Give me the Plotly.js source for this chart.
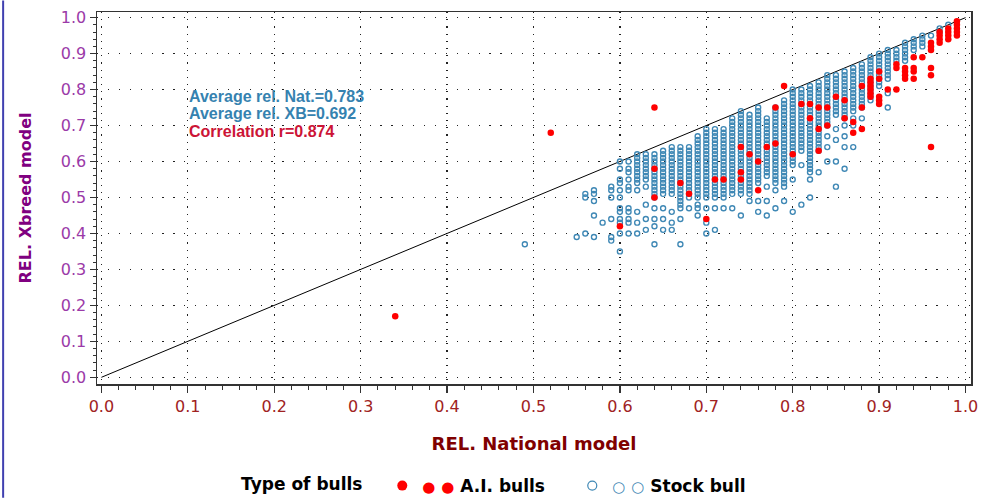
<!DOCTYPE html>
<html>
<head>
<meta charset="utf-8">
<script src="https://cdn.plot.ly/plotly-3.0.1.min.js"></script>
<style>
  html, body { margin: 0; padding: 0; background: #ffffff; }
  #chart { width: 984px; height: 498px; }
</style>
</head>
<body>
<div id="chart"></div>
<script>
// ---- Data ----
// Stock bulls: one x per column, with the y values seen in that column
const stockColX = [0.49, 0.55, 0.56, 0.57, 0.58, 0.59, 0.60, 0.61, 0.62, 0.63, 0.64, 0.65, 0.66, 0.67, 0.68, 0.69,
  0.70, 0.71, 0.72, 0.73, 0.74, 0.75, 0.76, 0.77, 0.78, 0.79, 0.80, 0.81, 0.82, 0.83, 0.84, 0.85, 0.86, 0.87, 0.88,
  0.89, 0.90, 0.91, 0.92, 0.93, 0.94, 0.95, 0.96, 0.97, 0.98];
const stockColY = [
  [.37],
  [.39],
  [.51,.50,.40],
  [.52,.51,.49,.45,.39],
  [.43],
  [.53,.52,.50,.44,.39,.38],
  [.60,.58,.55,.54,.52,.50,.47,.46,.44,.43,.40,.35],
  [.60,.58,.57,.55,.53,.52,.47,.46,.44,.43,.40],
  [.62,.61,.60,.59,.58,.57,.56,.55,.54,.52,.46,.43,.40],
  [.62,.61,.60,.59,.58,.57,.56,.55,.53,.48,.44,.41],
  [.62,.61,.60,.59,.58,.57,.56,.55,.54,.53,.52,.51,.50,.47,.44,.42,.37],
  [.63,.62,.61,.60,.59,.58,.57,.56,.55,.54,.53,.52,.51,.47,.44,.41],
  [.64,.63,.62,.61,.60,.59,.58,.57,.56,.55,.54,.53,.52,.51,.46,.43,.41],
  [.64,.63,.62,.61,.60,.59,.58,.57,.56,.55,.54,.53,.52,.51,.50,.49,.48,.47,.44,.37],
  [.64,.63,.62,.61,.60,.59,.58,.57,.56,.55,.54,.53,.52,.51,.50,.47],
  [.67,.66,.65,.64,.63,.62,.61,.60,.59,.58,.57,.56,.55,.54,.53,.52,.51,.50,.48,.47,.45],
  [.69,.68,.67,.66,.65,.64,.63,.62,.61,.60,.59,.58,.57,.56,.55,.54,.53,.52,.51,.50,.47,.43,.40],
  [.69,.68,.67,.66,.65,.64,.63,.62,.61,.60,.59,.58,.57,.56,.55,.54,.53,.52,.51,.50,.47,.41],
  [.69,.68,.67,.66,.65,.64,.63,.62,.61,.60,.59,.58,.57,.56,.55,.54,.53,.52,.51,.50,.47],
  [.72,.71,.70,.69,.68,.67,.66,.65,.64,.63,.62,.61,.60,.59,.58,.57,.56,.55,.54,.53,.52,.51,.47],
  [.74,.73,.72,.71,.70,.69,.68,.67,.66,.65,.64,.63,.62,.61,.60,.59,.58,.57,.56,.55,.54,.53,.52,.51,.45],
  [.73,.72,.71,.70,.69,.68,.67,.66,.65,.64,.63,.62,.61,.60,.59,.58,.57,.56,.55,.54,.53,.52,.51,.49],
  [.75,.74,.73,.72,.71,.70,.69,.68,.67,.66,.65,.64,.63,.62,.61,.60,.59,.58,.57,.56,.55,.54,.49,.46],
  [.72,.71,.70,.69,.68,.67,.66,.65,.64,.63,.62,.61,.60,.59,.58,.57,.56,.53,.49,.45],
  [.75,.74,.73,.72,.71,.70,.69,.68,.67,.66,.65,.64,.63,.62,.61,.60,.59,.58,.57,.56,.55,.54,.52,.47],
  [.77,.76,.75,.74,.73,.72,.71,.70,.69,.68,.67,.66,.65,.64,.63,.62,.61,.60,.59,.58,.57,.56,.55,.54,.53,.49],
  [.80,.79,.78,.77,.76,.75,.74,.73,.72,.71,.70,.69,.68,.67,.66,.65,.64,.63,.62,.61,.60,.59,.55,.46],
  [.80,.79,.78,.77,.76,.75,.74,.73,.72,.71,.70,.69,.68,.67,.66,.65,.64,.63,.59,.48],
  [.81,.80,.79,.78,.77,.76,.75,.74,.73,.72,.71,.70,.69,.68,.67,.66,.65,.64,.63,.62,.61,.60,.59,.58,.57,.55,.50],
  [.82,.81,.80,.79,.78,.77,.76,.75,.74,.73,.72,.71,.70,.69,.68,.67,.66,.65,.64,.63,.57],
  [.84,.83,.82,.81,.80,.79,.78,.77,.76,.75,.74,.73,.72,.71,.70,.67,.64,.60],
  [.84,.83,.82,.81,.80,.79,.78,.77,.76,.75,.74,.73,.69,.66,.60,.53],
  [.85,.84,.83,.82,.81,.80,.79,.78,.77,.76,.75,.74,.73,.72,.70,.67,.64,.58],
  [.86,.85,.84,.83,.82,.81,.80,.79,.78,.77,.76,.75,.74,.72,.70,.64],
  [.87,.86,.85,.84,.83,.82,.81,.80,.79,.78,.77,.76,.75,.72],
  [.89,.88,.87,.86,.85,.84,.83,.82,.81,.80,.79,.78,.77],
  [.90,.89,.88,.87,.86,.85,.84,.83,.82,.81],
  [.91,.90,.89,.88,.87,.86,.85,.84,.83,.79,.75],
  [.91,.90,.89,.88],
  [.93,.92,.91,.90,.89,.88],
  [.94,.93,.92,.91],
  [.95,.94,.93,.92],
  [.95],
  [.97,.96],
  [.98]
];

// A.I. bulls
const aiX = [0.34, 0.52, 0.60, 0.64, 0.64, 0.64, 0.67, 0.68, 0.70, 0.71, 0.72, 0.74, 0.74, 0.74, 0.75, 0.76, 0.76,
  0.77, 0.78, 0.78, 0.79, 0.80, 0.81, 0.82, 0.82, 0.83, 0.83, 0.83, 0.84, 0.84, 0.85, 0.86, 0.86, 0.87, 0.87,
  0.88, 0.88, 0.88, 0.89, 0.89, 0.89, 0.89, 0.89, 0.89, 0.90, 0.90, 0.90, 0.90, 0.90, 0.91, 0.92, 0.92, 0.92,
  0.93, 0.93, 0.93, 0.93, 0.94, 0.94, 0.94, 0.94, 0.95, 0.96, 0.96, 0.96, 0.96, 0.96, 0.96,
  0.97, 0.97, 0.97, 0.97, 0.98, 0.98, 0.98, 0.98, 0.99, 0.99, 0.99, 0.99, 0.99];
const aiY = [0.17, 0.68, 0.42, 0.75, 0.58, 0.50, 0.54, 0.51, 0.44, 0.55, 0.55, 0.64, 0.57, 0.55, 0.62, 0.60, 0.52,
  0.64, 0.75, 0.65, 0.81, 0.62, 0.76, 0.76, 0.72, 0.75, 0.69, 0.63, 0.75, 0.70, 0.78, 0.77, 0.72, 0.71, 0.68,
  0.81, 0.75, 0.69, 0.83, 0.82, 0.81, 0.80, 0.79, 0.78, 0.85, 0.83, 0.78, 0.77, 0.76, 0.80, 0.87, 0.86, 0.80,
  0.86, 0.85, 0.84, 0.83, 0.89, 0.86, 0.85, 0.83, 0.89, 0.93, 0.92, 0.91, 0.86, 0.84, 0.64,
  0.96, 0.95, 0.94, 0.93, 0.97, 0.96, 0.95, 0.94, 0.99, 0.98, 0.97, 0.96, 0.95];

// Reference line y = x
const refLineX = [0, 1];
const refLineY = [0, 1];

// Summary statistics printed on the chart
const avgRelNat = 0.783;
const avgRelXB = 0.692;
const corrR = 0.874;

// Axis ticks
const tickValues = [0, 0.1, 0.2, 0.3, 0.4, 0.5, 0.6, 0.7, 0.8, 0.9, 1.0];
const tickLabels = ['0.0', '0.1', '0.2', '0.3', '0.4', '0.5', '0.6', '0.7', '0.8', '0.9', '1.0'];

// ---- Build point lists from the column table ----
const stockX = [], stockY = [];
stockColX.forEach((x, i) => {
  stockColY[i].forEach(y => { stockX.push(x); stockY.push(y); });
});

const BLUE = '#3f88b5';
const RED = '#ff0000';
const FONT = 'DejaVu Sans';
const SANS = 'Liberation Sans';
const NB = '\u00a0';

function glyphs(ch, color) {
  const g = '<span style="color:' + color + ';font-weight:normal;font-size:15px">' + ch + '</span>';
  return g + NB + g + ' ';
}

const traces = [
  {
    x: refLineX, y: refLineY, mode: 'lines', type: 'scatter',
    line: { color: '#000000', width: 1 }, showlegend: false, hoverinfo: 'skip'
  },
  {
    x: stockX, y: stockY, mode: 'markers', type: 'scatter', name: 'Stock bull',
    marker: { symbol: 'circle-open', size: 5, color: BLUE, line: { width: 1.4, color: BLUE } },
    showlegend: false
  },
  {
    x: aiX, y: aiY, mode: 'markers', type: 'scatter', name: 'A.I. bulls',
    marker: { symbol: 'circle', size: 6.5, color: RED },
    showlegend: false
  },
  // legend entries
  {
    x: [null], y: [null], mode: 'markers', type: 'scatter',
    name: glyphs('\u25CF', RED) + 'A.I. bulls',
    legendwidth: 145,
    marker: { symbol: 'circle', size: 10, color: RED }
  },
  {
    x: [null], y: [null], mode: 'markers', type: 'scatter',
    name: glyphs('\u25CB', BLUE) + 'Stock bull',
    marker: { symbol: 'circle-open', size: 9, color: BLUE, line: { width: 1.2, color: BLUE } }
  }
];

const axisCommon = {
  tickvals: tickValues, ticktext: tickLabels,
  showgrid: true, gridcolor: '#222222', gridwidth: 1.2,
  zeroline: false, showline: true, linecolor: '#333333', linewidth: 1.5, mirror: true,
  ticks: 'outside', tickcolor: '#333333', tickwidth: 1.3,
  automargin: true
};

const layout = {
  width: 984, height: 498, autosize: false,
  paper_bgcolor: '#ffffff', plot_bgcolor: '#ffffff',
  margin: { l: 97, r: 6, t: 12, b: 114, pad: 0 },
  hovermode: false,
  font: { family: FONT },
  xaxis: Object.assign({}, axisCommon, {
    range: [-0.0051, 1.0063],
    griddash: '1.2px,6px',
    ticklen: 7,
    tickfont: { family: FONT, size: 16, color: '#a02222' },
    minor: { dtick: 0.02, tick0: 0, ticks: 'outside', ticklen: 4, tickcolor: '#333333', tickwidth: 1, showgrid: false },
    title: { text: 'REL. National model', standoff: 22,
      font: { family: FONT, size: 18, weight: 'bold', color: '#800000' } }
  }),
  yaxis: Object.assign({}, axisCommon, {
    range: [-0.0186, 1.0156],
    griddash: '1.2px,9.7px',
    ticklen: 6,
    tickfont: { family: FONT, size: 16, color: '#9b3aa8' },
    minor: { dtick: 0.02, tick0: 0, ticks: 'outside', ticklen: 3, tickcolor: '#333333', tickwidth: 1, showgrid: false },
    title: { text: 'REL. Xbreed model', standoff: 25,
      font: { family: FONT, size: 16, weight: 'bold', color: '#800080' } }
  }),
  legend: {
    orientation: 'h', xref: 'container', yref: 'container',
    x: 0.243, xanchor: 'left', y: 0.024, yanchor: 'middle',
    bgcolor: 'rgba(0,0,0,0)', borderwidth: 0,
    font: { family: FONT, size: 17, weight: 'bold', color: '#000000' },
    title: { text: 'Type of bulls' + NB + NB, side: 'left',
      font: { family: FONT, size: 17, weight: 'bold', color: '#000000' } },
    itemclick: false, itemdoubleclick: false
  },
  annotations: [
    { xref: 'paper', yref: 'paper', x: 0.103, y: 0.7736, xanchor: 'left', yanchor: 'middle', showarrow: false,
      text: 'Average rel. Nat.=' + avgRelNat.toFixed(3),
      font: { family: SANS, size: 16, weight: 'bold', color: '#3582b0' } },
    { xref: 'paper', yref: 'paper', x: 0.103, y: 0.7266, xanchor: 'left', yanchor: 'middle', showarrow: false,
      text: 'Average rel. XB=' + avgRelXB.toFixed(3),
      font: { family: SANS, size: 16, weight: 'bold', color: '#3582b0' } },
    { xref: 'paper', yref: 'paper', x: 0.103, y: 0.6796, xanchor: 'left', yanchor: 'middle', showarrow: false,
      text: 'Correlation r=' + corrR.toFixed(3),
      font: { family: SANS, size: 16, weight: 'bold', color: '#cc1436' } }
  ],
  shapes: [
    { type: 'line', xref: 'paper', yref: 'paper', x0: -0.1074, x1: -0.1074, y0: -0.306, y1: 1.031,
      line: { color: '#4040b0', width: 2 } }
  ]
};

Plotly.newPlot('chart', traces, layout, { staticPlot: true, displayModeBar: false });
</script>
</body>
</html>
